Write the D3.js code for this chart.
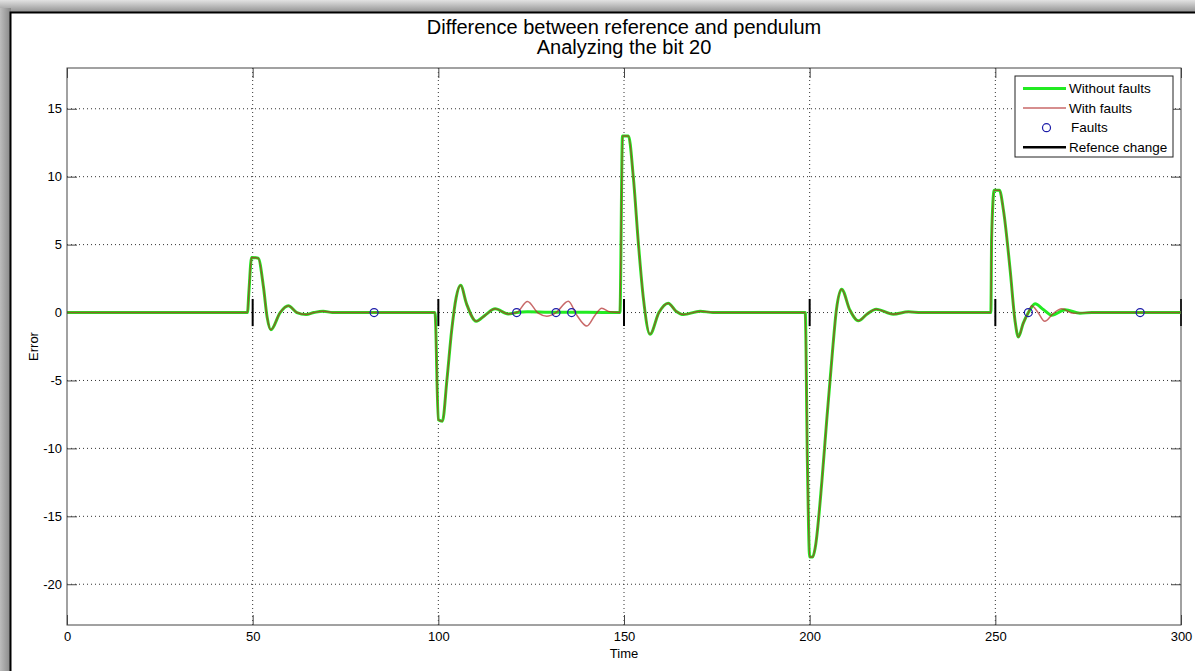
<!DOCTYPE html>
<html lang="en">
<head>
    <meta charset="UTF-8">
    <title>Difference between reference and pendulum</title>
    <style>
        body { margin: 0; background: #fff; }
        text { font-family: Arial, "Liberation Sans", sans-serif; fill: #000; }
    </style>
</head>
<body>

    <script src="https://d3js.org/d3.v7.min.js"></script>
    <script>
        // Data
        const xTicks = [0, 50, 100, 150, 200, 250, 300],
            yTicks = [-20, -15, -10, -5, 0, 5, 10, 15];

        // "Without faults" series
        const timeNoFault = [0, 48.6, 49.0, 49.7, 51.5, 52.9, 53.9, 54.9, 57.4, 59.6, 61.9, 64.4, 66.5, 69.0, 71.5,
            99.1, 100.0, 101.1, 102.3, 103.6, 104.8, 106.0, 107.6, 110.2, 112.6, 115.3, 118.8, 121.1, 124.0, 130.0, 140.0,
            148.9, 149.6, 151.2, 152.5, 153.9, 155.2, 157.0, 159.4, 161.9, 164.0, 166.0, 170.5, 174.0,
            198.8, 199.4, 200.0, 200.8, 201.5, 203.3, 204.6, 206.1, 207.2, 208.6, 210.8, 213.1, 215.5, 217.9, 222.5, 226.6, 230.0,
            248.8, 249.0, 249.7, 251.1, 252.2, 254.0, 255.3, 256.2, 257.5, 258.9, 260.7, 263.0, 265.2, 268.8, 272.8, 276.0, 300];
        const errNoFault = [0, 0, 1.6, 4.05, 4.0, 1.9, -0.35, -1.27, 0, 0.5, 0, -0.15, 0, 0.1, 0,
            0, -7.9, -8.0, -5.0, -1.3, 1.1, 2.0, 0.64, -0.64, -0.2, 0.27, -0.1, 0, 0.05, 0.02, 0.02,
            0, 13.0, 13.0, 10.0, 5.0, 1.1, -1.6, 0, 0.69, 0.1, -0.15, 0.1, 0,
            0, -11.2, -18.0, -18.0, -17.3, -12.4, -7.9, -3.0, 0.2, 1.72, 0.2, -0.61, -0.1, 0.25, -0.12, 0.05, 0,
            0, 5.5, 9.0, 9.0, 7.5, 3.1, -0.6, -1.8, -0.8, 0, 0.64, 0.2, -0.2, 0.2, -0.05, 0, 0];

        // "With faults" series
        const timeFault = [0, 48.6, 49.0, 49.7, 51.5, 52.9, 53.9, 54.9, 57.4, 59.6, 61.9, 64.4, 66.5, 69.0, 71.5,
            99.1, 100.0, 101.1, 102.3, 103.6, 104.8, 106.0, 107.6, 110.2, 112.6, 115.3, 118.8,
            121.1, 124.0, 126.9, 129.2, 131.7, 135.0, 137.3, 140.0, 142.2, 144.0, 146.2,
            148.9, 149.6, 151.2, 152.5, 153.9, 155.2, 157.0, 159.4, 161.9, 164.0, 166.0, 170.5, 174.0,
            198.8, 199.4, 200.0, 200.8, 201.5, 203.3, 204.6, 206.1, 207.2, 208.6, 210.8, 213.1, 215.5, 217.9, 222.5, 226.6, 230.0,
            248.8, 249.0, 249.7, 251.1, 252.2, 254.0, 255.3, 256.2, 257.5, 258.9, 259.8, 261.5, 263.3, 265.5, 267.9, 271.0, 275.0, 300];
        const errFault = [0, 0, 1.6, 4.05, 4.0, 1.9, -0.35, -1.27, 0, 0.5, 0, -0.15, 0, 0.1, 0,
            0, -7.9, -8.0, -5.0, -1.3, 1.1, 2.0, 0.64, -0.64, -0.2, 0.27, -0.1,
            0, 0.81, -0.05, -0.27, 0, 0.83, -0.2, -1.0, -0.2, 0.32, 0.05,
            0, 13.0, 13.0, 10.0, 5.0, 1.1, -1.6, 0, 0.69, 0.1, -0.15, 0.1, 0,
            0, -11.2, -18.0, -18.0, -17.3, -12.4, -7.9, -3.0, 0.2, 1.72, 0.2, -0.61, -0.1, 0.25, -0.12, 0.05, 0,
            0, 5.5, 9.0, 9.0, 7.5, 3.1, -0.6, -1.8, -0.8, 0, 0.5, 0.0, -0.65, -0.1, 0.27, -0.05, 0, 0];

        // Fault instants and reference changes
        const faultTimes = [82.7, 121.1, 131.7, 135.9, 258.9, 289.0],
            faultValues = [0, 0, 0, 0, 0, 0],
            refChangeTimes = [50, 100, 150, 200, 250, 300],
            refChangeSpan = [-1, 1];

        const legendLabels = ["Without faults", "With faults", "Faults", "Refence change"];

        // Layout
        const W = 1195, H = 671,
            margin = {top: 68, right: 14, bottom: 46, left: 67},
            width = W - margin.left - margin.right,
            height = H - margin.top - margin.bottom,
            tickLen = 10,
            green = "#22ea22", red = "#b02a2a", blue = "#1c1ca8", axisCol = "#454545";

        const x = d3.scaleLinear().domain([0, 300]).range([0, width]);
        const y = d3.scaleLinear().domain([-23, 18]).range([height, 0]);

        const svg = d3.select("body").append("svg")
            .attr("width", W)
            .attr("height", H);

        // window frame with shadow
        const defs = svg.append("defs");
        const gTop = defs.append("linearGradient").attr("id", "shTop")
            .attr("x1", 0).attr("y1", 0).attr("x2", 0).attr("y2", 1);
        gTop.append("stop").attr("offset", "0%").attr("stop-color", "#e2e2e2");
        gTop.append("stop").attr("offset", "100%").attr("stop-color", "#8c8c8c");
        const gLeft = defs.append("linearGradient").attr("id", "shLeft")
            .attr("x1", 0).attr("y1", 0).attr("x2", 1).attr("y2", 0);
        gLeft.append("stop").attr("offset", "0%").attr("stop-color", "#bcbcbc");
        gLeft.append("stop").attr("offset", "100%").attr("stop-color", "#868686");

        svg.append("rect").attr("x", 0).attr("y", 0).attr("width", W).attr("height", 13)
            .attr("fill", "url(#shTop)");
        svg.append("rect").attr("x", 0).attr("y", 8).attr("width", 11).attr("height", H - 8)
            .attr("fill", "url(#shLeft)");
        svg.append("rect").attr("x", 11).attr("y", 13).attr("width", W - 11).attr("height", H - 13)
            .attr("fill", "#fff");
        svg.append("path").attr("d", `M10.5,${H} V12.5 H${W}`)
            .attr("fill", "none").attr("stroke", "#000").attr("stroke-width", 2);

        const g = svg.append("g")
            .attr("transform", "translate(" + margin.left + "," + margin.top + ")");

        // grid
        g.append("g").selectAll("line")
            .data(xTicks.filter(d => d > 0 && d < 300))
            .enter().append("line")
            .attr("x1", d => x(d)).attr("x2", d => x(d))
            .attr("y1", 0).attr("y2", height)
            .attr("stroke", "#333").attr("stroke-dasharray", "1,3");
        g.append("g").selectAll("line")
            .data(yTicks)
            .enter().append("line")
            .attr("x1", 0).attr("x2", width)
            .attr("y1", d => y(d)).attr("y2", d => y(d))
            .attr("stroke", "#333").attr("stroke-dasharray", "1,3");

        // axes, ticks pointing inwards on all sides
        const fmt = d => String(d);
        const axisBottom = d3.axisBottom(x).tickValues(xTicks).tickSize(-tickLen).tickPadding(7).tickFormat(fmt);
        const axisTop = d3.axisTop(x).tickValues(xTicks).tickSize(-tickLen).tickFormat("");
        const axisLeft = d3.axisLeft(y).tickValues(yTicks).tickSize(-tickLen).tickPadding(5).tickFormat(fmt);
        const axisRight = d3.axisRight(y).tickValues(yTicks).tickSize(-tickLen).tickFormat("");

        [[axisBottom, `translate(0,${height})`], [axisTop, "translate(0,0)"],
         [axisLeft, "translate(0,0)"], [axisRight, `translate(${width},0)`]].forEach(([ax, tr]) => {
            const a = g.append("g").attr("transform", tr).call(ax);
            a.select(".domain").remove();
            a.selectAll("line").attr("stroke", axisCol);
            a.selectAll("text").style("font-size", "13px").attr("fill", "#111");
        });

        // reference change marks
        g.append("g").selectAll("line")
            .data(refChangeTimes)
            .enter().append("line")
            .attr("x1", d => x(d)).attr("x2", d => x(d))
            .attr("y1", y(refChangeSpan[0])).attr("y2", y(refChangeSpan[1]))
            .attr("stroke", "#000").attr("stroke-width", 2);

        const line = d3.line()
            .x(d => x(d[0]))
            .y(d => y(d[1]))
            .curve(d3.curveMonotoneX);

        g.append("path")
            .datum(d3.zip(timeNoFault, errNoFault))
            .attr("d", line)
            .attr("fill", "none").attr("stroke", green).attr("stroke-width", 3);

        g.append("path")
            .datum(d3.zip(timeFault, errFault))
            .attr("d", line)
            .attr("fill", "none").attr("stroke", red).attr("stroke-opacity", 0.7).attr("stroke-width", 1.5);

        g.append("g").selectAll("circle")
            .data(d3.zip(faultTimes, faultValues))
            .enter().append("circle")
            .attr("cx", d => x(d[0])).attr("cy", d => y(d[1]))
            .attr("r", 4)
            .attr("fill", "none").attr("stroke", blue).attr("stroke-width", 1.2);

        // box
        g.append("rect").attr("width", width).attr("height", height)
            .attr("fill", "none").attr("stroke", axisCol);

        // legend
        const lg = svg.append("g").attr("transform", "translate(1015,76)");
        lg.append("rect").attr("width", 158).attr("height", 81)
            .attr("fill", "#fff").attr("stroke", "#222");
        const rowY = i => 12.5 + i * 19.6;
        lg.append("line").attr("x1", 8).attr("x2", 51).attr("y1", rowY(0)).attr("y2", rowY(0))
            .attr("stroke", green).attr("stroke-width", 3);
        lg.append("line").attr("x1", 8).attr("x2", 51).attr("y1", rowY(1)).attr("y2", rowY(1))
            .attr("stroke", red).attr("stroke-opacity", 0.7).attr("stroke-width", 1.5);
        lg.append("circle").attr("cx", 31.5).attr("cy", rowY(2)).attr("r", 4)
            .attr("fill", "none").attr("stroke", blue).attr("stroke-width", 1.2);
        lg.append("line").attr("x1", 8).attr("x2", 51).attr("y1", rowY(3)).attr("y2", rowY(3))
            .attr("stroke", "#000").attr("stroke-width", 2.5);
        lg.selectAll("text.lab")
            .data(legendLabels)
            .enter().append("text")
            .attr("class", "lab")
            .attr("x", (d, i) => i === 2 ? 56 : 54)
            .attr("y", (d, i) => rowY(i))
            .attr("dy", "0.35em")
            .style("font-size", "13.5px")
            .text(d => d);

        // titles
        svg.append("text").attr("x", margin.left + width / 2).attr("y", 27).attr("dy", "0.35em")
            .attr("text-anchor", "middle").style("font-size", "20px")
            .text("Difference between reference and pendulum");
        svg.append("text").attr("x", margin.left + width / 2).attr("y", 47).attr("dy", "0.35em")
            .attr("text-anchor", "middle").style("font-size", "20px")
            .text("Analyzing the bit 20");
        svg.append("text").attr("x", margin.left + width / 2).attr("y", 653).attr("dy", "0.35em")
            .attr("text-anchor", "middle").style("font-size", "13px")
            .text("Time");
        svg.append("text").attr("transform", `translate(33,${margin.top + height / 2}) rotate(-90)`)
            .attr("dy", "0.35em")
            .attr("text-anchor", "middle").style("font-size", "13px")
            .text("Error");
    </script>
</body>
</html>
